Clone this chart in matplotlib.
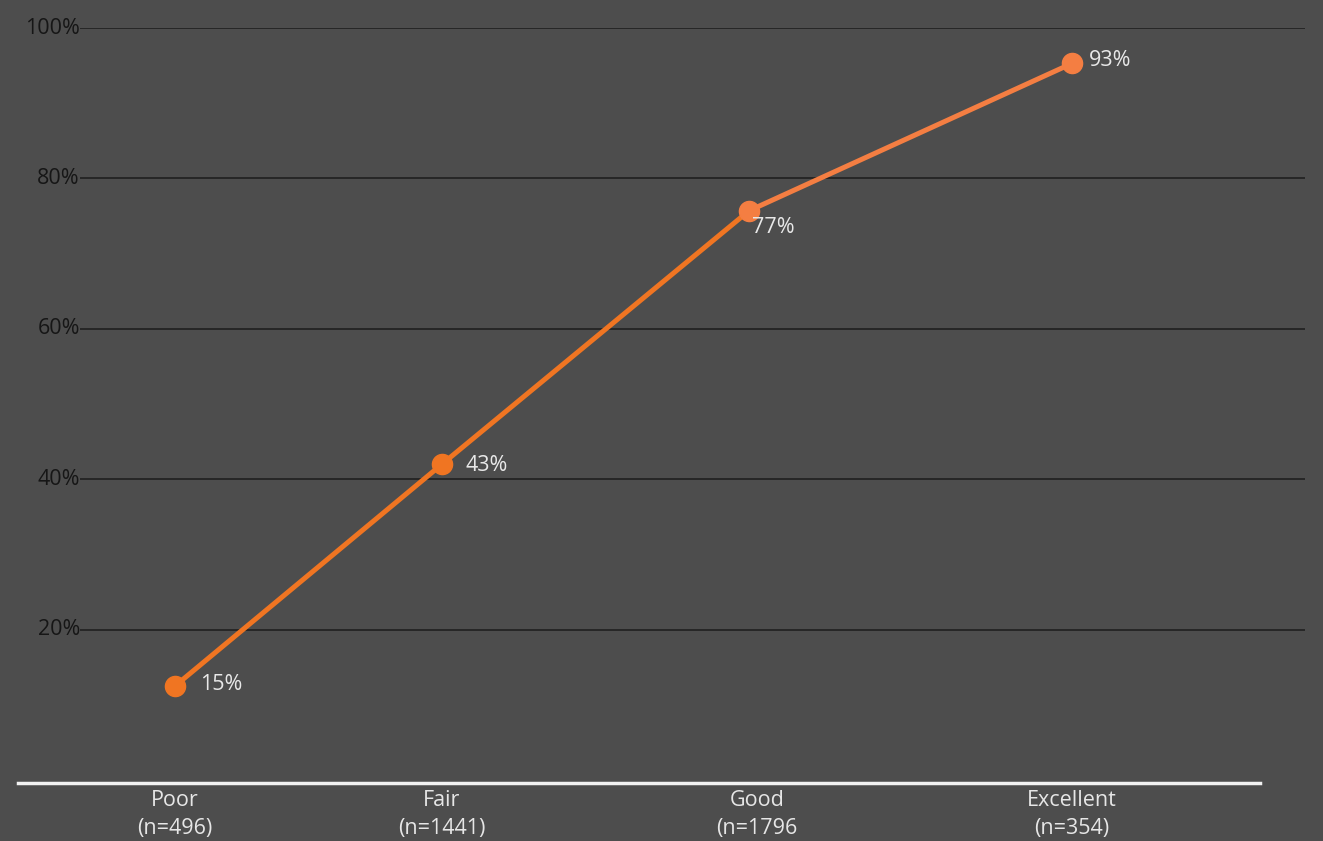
import matplotlib
matplotlib.use("Agg")
import matplotlib.pyplot as plt
import matplotlib.transforms as mtransforms

plt.rcParams['font.family'] = ['Open Sans', 'DejaVu Sans']

# data
categories = ["Poor\n(n=496)", "Fair\n(n=1441)", "Good\n(n=1796", "Excellent\n(n=354)"]
values = [12.5, 42.0, 75.7, 95.3]
value_labels = ["15%", "43%", "77%", "93%"]
y_ticks = [20, 40, 60, 80, 100]
y_tick_labels = ["20%", "40%", "60%", "80%", "100%"]

# category spacing in the original is not even
x_pos = [0, 1, 2.15, 3.36]

bg = "#4d4d4d"
fig = plt.figure(figsize=(13.23, 8.41), dpi=100, facecolor=bg)
ax = fig.add_axes([18 / 1323, 1 - 783 / 841, 1287 / 1323, 755 / 841])
ax.set_facecolor(bg)
ax.set_xlim(-0.588, 4.232)
ax.set_ylim(-0.4, 100)

for s in ax.spines.values():
    s.set_visible(False)

# grid lines and y labels
grid_start = 62 / 1287
ax.hlines(y_ticks, grid_start, 1, transform=ax.get_yaxis_transform(),
          color="#1c1c1c", lw=1.1, zorder=1)
for y, t in zip(y_ticks, y_tick_labels):
    ax.text(grid_start, y, t, transform=ax.get_yaxis_transform(),
            ha="right", va="center", fontsize=15.5, color="#161616")
ax.set_yticks([])

# white base line
ax.plot([0, 1242 / 1287], [0, 0], transform=ax.transAxes, color="#f2f2f2",
        lw=2.5, clip_on=False, zorder=3)

# line, coloured per segment like the original
seg_colors = ["#f07522", "#f07522", "#f47e42"]
for i in range(len(values) - 1):
    ax.plot(x_pos[i:i + 2], values[i:i + 2], color=seg_colors[i], lw=3.6,
            solid_capstyle="round", zorder=4)
pt_colors = ["#f07522", "#f07522", "#f47e42", "#f47e42"]
for x, v, c in zip(x_pos, values, pt_colors):
    ax.plot(x, v, "o", color=c, ms=14.5, zorder=5)

offsets = [(18, 1), (17, -1), (2, -12), (12, 2)]
for x, v, lab, off in zip(x_pos, values, value_labels, offsets):
    ax.annotate(lab, (x, v), xytext=off, textcoords="offset points",
                ha="left", va="center", fontsize=15.5, color="#e8e8e8", zorder=6)

ax.set_xticks(x_pos)
ax.set_xticklabels(categories, fontsize=15.5, color="#e6e6e6", linespacing=1.45)
ax.tick_params(axis="x", length=0, pad=5)
# the "Good" label sits a little right of its point in the original
good_lbl = ax.get_xticklabels()[2]
good_lbl.set_transform(good_lbl.get_transform() +
                       mtransforms.ScaledTranslation(8 / 100, 0, fig.dpi_scale_trans))

fig.savefig("out.png", dpi=100, facecolor=bg)
